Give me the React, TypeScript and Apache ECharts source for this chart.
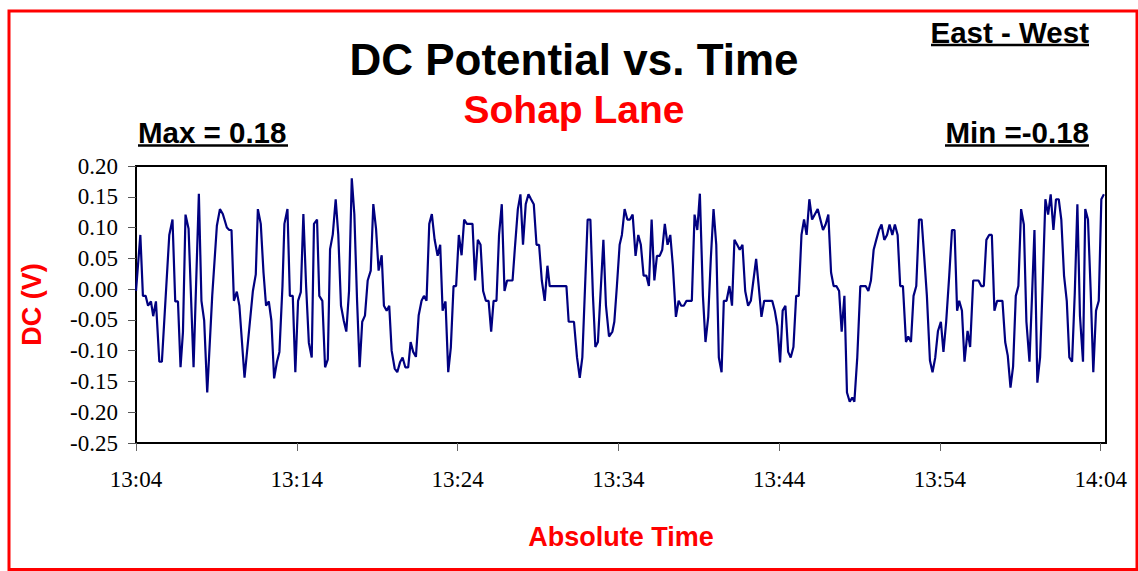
import React, { useEffect, useRef } from "react";
import * as echarts from "echarts";

// Minutes after 13:04:00
const minutes: number[] = [
  0, 0.27, 0.43, 0.6, 0.75, 0.93, 1.07, 1.24, 1.45, 1.61, 2.07, 2.27, 2.44, 2.61, 2.77, 2.92, 3.08, 3.27, 3.58, 3.91,
  4.07, 4.24, 4.43, 4.74, 5.03, 5.22, 5.4, 5.65, 5.8, 5.94, 6.09, 6.27, 6.43, 6.75, 6.93,
  7.27, 7.45, 7.58, 7.76, 7.93, 8.09, 8.26, 8.42, 8.59, 8.76, 8.92, 9.11, 9.23, 9.42, 9.57, 9.75, 9.91, 10.08, 10.25, 10.41,
  10.58, 10.75, 10.93, 11.07, 11.26, 11.4, 11.59, 11.76, 11.93, 12.07, 12.24, 12.42, 12.58, 12.75, 12.92, 13.08, 13.25, 13.42, 13.58, 13.75,
  13.91, 14.07, 14.24, 14.41, 14.6, 14.76,
  14.93, 15.09, 15.28, 15.42, 15.59, 15.75, 15.9, 16.09, 16.25, 16.42, 16.58, 16.75, 16.93, 17.08, 17.24, 17.41, 17.58, 17.76, 17.91, 18.07,
  18.24, 18.4, 18.57, 18.76, 18.92, 19.07, 19.25, 19.42, 19.58, 19.75, 19.91, 20.08, 20.25, 20.41, 20.58, 20.93, 21.09, 21.26, 21.43, 21.59,
  21.76, 21.93, 22.09,
  22.24, 22.42, 22.58, 22.75, 22.92, 23.08, 23.42, 23.58, 23.75, 23.91, 24.07, 24.24, 24.41, 24.57, 24.74, 24.91, 25.07, 25.24, 25.42, 25.59,
  25.73, 26.77, 26.91, 27.24, 27.43, 27.6, 27.76, 28.09, 28.26, 28.42, 28.57, 28.73, 29.07, 29.23, 29.42,
  29.63, 29.75, 29.91, 30.08, 30.22, 30.39, 30.56, 30.72, 30.89, 31.07, 31.24, 31.4, 31.57, 31.74, 31.9, 32.07, 32.24, 32.4, 32.57, 32.73,
  32.89, 33.06, 33.23, 33.39, 33.58, 33.75, 33.91, 34.07, 34.24, 34.57, 34.74, 34.91, 35.07, 35.26, 35.42, 35.59, 35.75, 35.92, 36.09, 36.25,
  36.42, 36.56, 36.73, 36.91, 37.07, 37.22,
  37.39, 37.55, 37.72, 37.89, 38.07, 38.24, 38.4, 38.57, 38.73, 38.9, 39.07, 39.57, 39.73, 39.89, 40.06, 40.22, 40.39, 40.56, 40.72, 40.89,
  41.06, 41.22, 41.39, 41.55, 41.71, 41.88, 42.05, 42.4, 42.73, 42.89, 43.06, 43.23, 43.39, 43.56, 43.73, 43.89, 44.06, 44.22, 44.39, 44.55,
  44.68,
  44.86, 45.05, 45.38, 45.55, 45.71, 45.88, 46.04, 46.21, 46.37, 46.54, 46.71, 46.87, 47.04, 47.2, 47.37, 47.53, 47.7, 47.89, 48.03, 48.2,
  48.36, 48.53, 48.7, 48.86, 49.02, 49.19, 49.38, 49.54, 49.71, 49.88, 50.06, 50.22, 50.39, 50.58, 50.75, 50.91, 51.07, 51.2, 51.37, 51.53,
  51.72, 51.88, 52.07,
  52.4, 52.57, 52.73, 52.89, 53.06, 53.23, 53.39, 53.56, 53.89, 54.06, 54.22, 54.39, 54.55, 54.72, 54.88, 55.05, 55.22, 55.38, 55.57, 55.73,
  55.88, 56.06, 56.23, 56.4, 56.56, 56.73, 56.89, 57.06, 57.22, 57.39, 57.55, 57.72, 57.89, 58.05, 58.22, 58.39, 58.55, 58.71, 58.9, 59.04,
  59.21, 59.38, 59.54, 59.71, 59.88, 60.04, 60.2,
];

// DC potential (V)
const dcVolts: number[] = [
  -0.003, 0.088, -0.011, -0.011, -0.027, -0.02, -0.044, -0.02, -0.118, -0.118, 0.088, 0.113, -0.02, -0.02, -0.127, -0.07, 0.121, 0.098, -0.127, 0.155,
  -0.019, -0.051, -0.168, -0.011, 0.103, 0.13, 0.122, 0.1, 0.096, 0.096, -0.019, -0.004, -0.027, -0.144, -0.095,
  -0.003, 0.024, 0.13, 0.106, 0.027, -0.027, -0.02, -0.051, -0.145, -0.119, -0.102, 0.005, 0.106, 0.13, -0.011, -0.011, -0.135, -0.019, -0.005, 0.122,
  0.005, -0.087, -0.111, 0.106, 0.113, -0.011, -0.019, -0.127, -0.114, 0.065, 0.089, 0.146, 0.089, -0.027, -0.051, -0.069, -0.003, 0.18, 0.122, -0.019,
  -0.127, -0.053, -0.043, 0.014, 0.03, 0.138,
  0.098, 0.03, 0.055, -0.027, -0.035, -0.027, -0.1, -0.129, -0.135, -0.119, -0.111, -0.127, -0.127, -0.086, -0.102, -0.11, -0.043, -0.019, -0.011, -0.019,
  0.106, 0.122, 0.081, 0.054, 0.072, -0.035, -0.02, -0.135, -0.095, 0.005, 0.005, 0.088, 0.055, 0.113, 0.106, 0.106, 0.014, 0.08, 0.072, -0.003,
  -0.019, -0.019, -0.069,
  -0.019, -0.019, 0.088, 0.138, -0.003, 0.014, 0.014, 0.072, 0.13, 0.154, 0.072, 0.138, 0.154, 0.146, 0.138, 0.072, 0.072, 0.014, -0.019, 0.038,
  0.005, 0.005, -0.053, -0.053, -0.111, -0.144, -0.111, 0.113, 0.113, -0.011, -0.094, -0.086, 0.08, -0.027, -0.077,
  -0.069, -0.053, 0.005, 0.072, 0.088, 0.13, 0.113, 0.113, 0.121, 0.054, 0.088, 0.072, 0.022, 0.022, 0.005, 0.113, 0.014, 0.054, 0.054, 0.064,
  0.106, 0.072, 0.088, 0.038, -0.045, -0.019, -0.027, -0.027, -0.019, -0.019, 0.121, 0.096, 0.155, -0.011, -0.086, -0.045, 0.049, 0.13, 0.072, -0.111,
  -0.135, -0.019, -0.019, 0.005, -0.027, 0.08,
  0.072, 0.064, 0.072, -0.003, -0.027, -0.019, 0.014, 0.049, 0.005, -0.045, -0.019, -0.019, -0.035, -0.06, -0.119, -0.035, -0.027, -0.102, -0.111, -0.094,
  -0.011, -0.011, 0.088, 0.113, 0.088, 0.146, 0.113, 0.13, 0.096, 0.105, 0.121, 0.027, 0.005, 0.005, -0.003, -0.069, -0.011, -0.168, -0.183, -0.176,
  -0.183,
  -0.111, 0.005, 0.005, -0.003, 0.014, 0.064, 0.08, 0.096, 0.105, 0.08, 0.088, 0.105, 0.088, 0.105, 0.088, 0.005, 0.005, -0.086, -0.077, -0.086,
  -0.011, 0.005, 0.113, 0.113, 0.054, -0.011, -0.116, -0.135, -0.111, -0.068, -0.053, -0.102, -0.053, 0.022, 0.096, 0.096, -0.035, -0.019, -0.035, -0.118,
  -0.068, -0.094, 0.014,
  0.014, 0.005, 0.005, 0.08, 0.088, 0.088, -0.035, -0.019, -0.019, -0.086, -0.108, -0.16, -0.126, -0.011, 0.005, 0.13, 0.105, -0.053, -0.118, -0.011,
  0.096, -0.152, -0.111, 0.014, 0.146, 0.121, 0.154, 0.096, 0.146, 0.146, 0.113, 0.022, -0.019, -0.111, -0.118, -0.005, 0.138, -0.043, -0.118, 0.13,
  0.113, -0.005, -0.135, -0.035, -0.019, 0.146, 0.154,
];

const titleText = "DC Potential vs. Time";
const subtitleText = "Sohap Lane";
const directionText = "East - West";
const maxText = "Max = 0.18";
const minText = "Min =-0.18";
const xAxisName = "Absolute Time";
const yAxisName = "DC (V)";

const startHour = 13;
const startMinute = 4;

function fmtTime(v: number): string {
  const total = startHour * 60 + startMinute + Math.round(v);
  const h = Math.floor(total / 60);
  const m = total % 60;
  return `${h}:${m < 10 ? "0" + m : m}`;
}

const SANS = "'Liberation Sans', Arial, sans-serif";
const SERIF = "'Liberation Serif', 'Times New Roman', serif";

export default function App() {
  const ref = useRef<HTMLDivElement>(null);

  useEffect(() => {
    if (!ref.current) return;
    const chart = echarts.init(ref.current, null, { renderer: "svg" });
    const data = minutes.map((m, i) => [m, dcVolts[i]]);

    chart.setOption({
      animation: false,
      backgroundColor: "#ffffff",
      grid: {
        left: 136,
        top: 166,
        right: 32,
        bottom: 128,
        show: true,
        borderColor: "#000",
        borderWidth: 2,
        containLabel: false,
      },
      xAxis: {
        type: "value",
        min: 0,
        max: 60.33,
        interval: 10,
        name: xAxisName,
        nameLocation: "middle",
        nameGap: 80,
        nameTextStyle: { color: "#ff0000", fontFamily: SANS, fontWeight: "bold", fontSize: 27 },
        axisLine: { show: true, onZero: false, lineStyle: { color: "#000", width: 2 } },
        axisTick: { show: true, inside: false, length: 8, lineStyle: { color: "#666", width: 1 } },
        axisLabel: {
          margin: 25,
          color: "#000",
          fontFamily: SERIF,
          fontSize: 23,
          showMaxLabel: false,
          formatter: (v: number) => (Math.abs(v % 10) < 0.01 ? fmtTime(v) : ""),
        },
        splitLine: { show: false },
      },
      yAxis: {
        type: "value",
        min: -0.25,
        max: 0.2,
        interval: 0.05,
        name: yAxisName,
        nameLocation: "middle",
        nameRotate: 90,
        nameGap: 91,
        nameTextStyle: { color: "#ff0000", fontFamily: SANS, fontWeight: "bold", fontSize: 27 },
        axisLine: { show: true, lineStyle: { color: "#000", width: 2 } },
        axisTick: { show: true, inside: false, length: 8, lineStyle: { color: "#555", width: 1 } },
        axisLabel: {
          margin: 18,
          color: "#000",
          fontFamily: SERIF,
          fontSize: 23,
          formatter: (v: number) => v.toFixed(2),
        },
        splitLine: { show: false },
      },
      series: [
        {
          type: "line",
          data,
          symbol: "none",
          lineStyle: { color: "#000080", width: 2.2 },
          itemStyle: { color: "#000080" },
        },
      ],
      graphic: [
        {
          type: "rect",
          shape: { x: 9, y: 11, width: 1128, height: 558.5 },
          style: { fill: "none", stroke: "#ff0000", lineWidth: 3 },
          silent: true,
        },
        {
          type: "text",
          x: 574,
          y: 59,
          style: {
            text: titleText,
            fill: "#000",
            font: `bold 44px ${SANS}`,
            textAlign: "center",
            textVerticalAlign: "middle",
          },
        },
        {
          type: "text",
          x: 574,
          y: 109,
          style: {
            text: subtitleText,
            fill: "#ff0000",
            font: `bold 39px ${SANS}`,
            textAlign: "center",
            textVerticalAlign: "middle",
          },
        },
        {
          type: "text",
          x: 1089,
          y: 32,
          style: {
            text: directionText,
            fill: "#000",
            font: `bold 29.5px ${SANS}`,
            textAlign: "right",
            textVerticalAlign: "middle",
          },
        },
        {
          type: "line",
          shape: { x1: 931, y1: 45, x2: 1089, y2: 45 },
          style: { stroke: "#000", lineWidth: 2.5 },
        },
        {
          type: "text",
          x: 138,
          y: 132,
          style: {
            text: maxText,
            fill: "#000",
            font: `bold 29.5px ${SANS}`,
            textAlign: "left",
            textVerticalAlign: "middle",
          },
        },
        {
          type: "line",
          shape: { x1: 138, y1: 145.5, x2: 288, y2: 145.5 },
          style: { stroke: "#000", lineWidth: 2.5 },
        },
        {
          type: "text",
          x: 1089,
          y: 132,
          style: {
            text: minText,
            fill: "#000",
            font: `bold 29.5px ${SANS}`,
            textAlign: "right",
            textVerticalAlign: "middle",
          },
        },
        {
          type: "line",
          shape: { x1: 945, y1: 145.5, x2: 1089, y2: 145.5 },
          style: { stroke: "#000", lineWidth: 2.5 },
        },
      ],
    });

    return () => {
      chart.dispose();
    };
  }, []);

  return (
    <div
      ref={ref}
      style={{ position: "fixed", left: 0, top: 0, width: 1138, height: 571, background: "#fff" }}
    />
  );
}
